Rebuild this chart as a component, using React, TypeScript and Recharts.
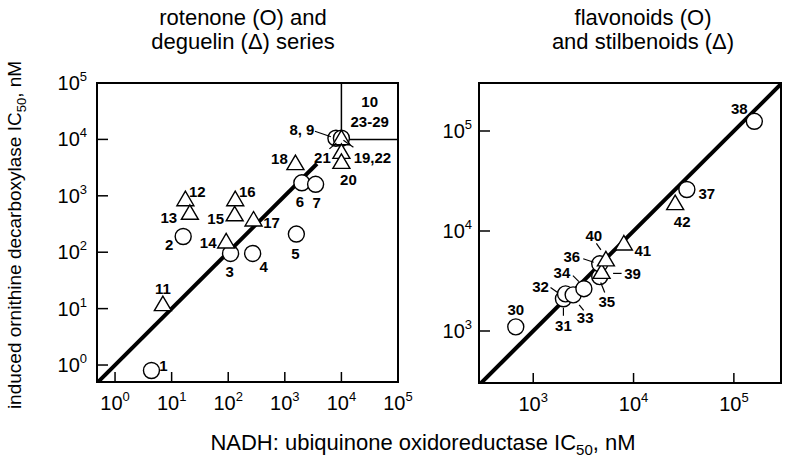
import React from 'react';
import { ScatterChart, Scatter, XAxis, YAxis, ReferenceLine, ReferenceDot } from 'recharts';

const FONT = "'Liberation Sans', Arial, Helvetica, sans-serif";

// rotenone (O) series — NADH oxidoreductase IC50 vs induced ODC IC50 (nM)
const rotenoneIds = ['1', '2', '3', '4', '5', '6', '7', '8, 9', ''];
const rotenoneNadh = [4.4, 16, 110, 270, 1600, 2000, 3500, 8000, 10000];
const rotenoneOdc = [0.8, 190, 95, 95, 210, 1700, 1600, 10500, 10500];

// deguelin (Δ) series
const deguelinIds = ['11', '12', '13', '14', '15', '16', '17', '18', '19,22', '21', '20'];
const deguelinNadh = [7, 17.5, 21, 92, 130, 133, 280, 1540, 10000, 10000, 10000];
const deguelinOdc = [12, 870, 500, 155, 470, 870, 380, 3800, 10500, 6000, 4000];

// flavonoids (O)
const flavonoidIds = ['30', '31', '32', '33', '34', '35', '36', '37', '38'];
const flavonoidNadh = [670, 2000, 2100, 2500, 3200, 4600, 4600, 34000, 160000];
const flavonoidOdc = [1100, 2100, 2350, 2300, 2650, 3500, 4700, 26000, 125000];

// stilbenoids (Δ)
const stilbenoidIds = ['39', '40', '41', '42'];
const stilbenoidNadh = [4800, 5300, 8000, 26000];
const stilbenoidOdc = [3900, 5200, 7500, 19000];

const leftTicks = [1, 10, 100, 1000, 10000, 100000];
const rightTicks = [1000, 10000, 100000];
const leftFit = [0.5, 3700];
const rightFit = [290, 300000];
const boxRange = [10000, 100000];
const boxLines = ['10', '23-29'];

const leftXDomain = [0.48, 100000];
const leftYDomain = [0.5, 100000];
const rightXDomain = [288, 295000];
const rightYDomain = [302, 302000];

// where each point label sits relative to its marker (px), with optional leader line
const labelPos: Record<string, { dx: number; dy: number; lead?: number[] }> = {
  '1': { dx: 12, dy: -5 },
  '2': { dx: -14, dy: 8 },
  '3': { dx: -1, dy: 18 },
  '4': { dx: 11, dy: 13 },
  '5': { dx: -1, dy: 19 },
  '6': { dx: -2, dy: 19 },
  '7': { dx: 1, dy: 18 },
  '8, 9': { dx: -34, dy: -9, lead: [-21, -7, -5, -1.5] },
  '11': { dx: 0, dy: -16 },
  '12': { dx: 12, dy: -8 },
  '13': { dx: -21, dy: 5 },
  '14': { dx: -18, dy: 1 },
  '15': { dx: -19, dy: 4 },
  '16': { dx: 12, dy: -8 },
  '17': { dx: 18, dy: 3 },
  '18': { dx: -16, dy: -5 },
  '19,22': { dx: 31, dy: 19, lead: [12, 9, 2, 2] },
  '21': { dx: -19, dy: 6, lead: [-12, -3, -5, -9] },
  '20': { dx: 7, dy: 18 },
  '30': { dx: 0, dy: -17 },
  '31': { dx: 0, dy: 27, lead: [0, 9, 0, 17] },
  '32': { dx: -25, dy: -7, lead: [-15, -6.5, -8, -1.5] },
  '33': { dx: 12, dy: 23, lead: [6, 10, 10.5, 15.5] },
  '34': { dx: -22, dy: -16, lead: [-11, -13, -5, -7] },
  '35': { dx: 7, dy: 25, lead: [1, 6, 5, 16] },
  '36': { dx: -28, dy: -7, lead: [-16.5, -5, -6, -1.5] },
  '37': { dx: 20, dy: 4 },
  '38': { dx: -15, dy: -13 },
  '39': { dx: 31, dy: 2, lead: [11.5, 1.5, 20, 1.5] },
  '40': { dx: -12, dy: -24, lead: [-9.5, -16, -5, -9.5] },
  '41': { dx: 19, dy: 7 },
  '42': { dx: 7, dy: 18 },
};

const toPoints = (ids: string[], xs: number[], ys: number[]) =>
  ids.map((id, i) => ({ id, x: xs[i], y: ys[i] }));
const toLine = (ends: number[]) => ends.map((v) => ({ x: v, y: v }));

const Marker = (props: any) => {
  const { cx, cy, payload, kind } = props;
  if (cx == null || cy == null) return <g />;
  const pos = labelPos[payload.id];
  return (
    <g>
      {kind === 'circle' ? (
        <circle cx={cx} cy={cy} r={8} fill="#fff" stroke="#000" strokeWidth={1.4} />
      ) : (
        <polygon
          points={`${cx},${cy - 8} ${cx - 8.5},${cy + 6.5} ${cx + 8.5},${cy + 6.5}`}
          fill="#fff"
          stroke="#000"
          strokeWidth={1.4}
        />
      )}
      {pos && pos.lead && (
        <line
          x1={cx + pos.lead[0]}
          y1={cy + pos.lead[1]}
          x2={cx + pos.lead[2]}
          y2={cy + pos.lead[3]}
          stroke="#000"
          strokeWidth={1.2}
        />
      )}
      {pos && payload.id && (
        <text
          x={cx + pos.dx}
          y={cy + pos.dy}
          textAnchor="middle"
          dominantBaseline="central"
          fontFamily={FONT}
          fontWeight="bold"
          fontSize={15}
          fill="#000"
        >
          {payload.id}
        </text>
      )}
    </g>
  );
};

const circleShape = (p: any) => <Marker {...p} kind="circle" />;
const triangleShape = (p: any) => <Marker {...p} kind="triangle" />;
const noShape = () => <g />;

const PowerTickX = (props: any) => {
  const { x, y, payload } = props;
  const exp = Math.round(Math.log10(payload.value));
  return (
    <text x={x} y={y + 28} textAnchor="middle" fontFamily={FONT} fontSize={20} fill="#000">
      10
      <tspan fontSize={13} dy={-9}>
        {exp}
      </tspan>
    </text>
  );
};

const PowerTickY = (props: any) => {
  const { x, y, payload } = props;
  const exp = Math.round(Math.log10(payload.value));
  return (
    <text x={x} y={y + 7} textAnchor="end" fontFamily={FONT} fontSize={20} fill="#000">
      10
      <tspan fontSize={13} dy={-9}>
        {exp}
      </tspan>
    </text>
  );
};

const BoxLabel = (props: any) => {
  const { viewBox, lines } = props;
  if (!viewBox) return null;
  const cx = viewBox.x + (viewBox.width || 0) / 2;
  const cy = viewBox.y + (viewBox.height || 0) / 2;
  return (
    <g>
      {lines.map((t: string, i: number) => (
        <text
          key={t}
          x={cx}
          y={cy + (i - 0.5) * 20}
          textAnchor="middle"
          dominantBaseline="central"
          fontFamily={FONT}
          fontWeight="bold"
          fontSize={15}
          fill="#000"
        >
          {t}
        </text>
      ))}
    </g>
  );
};

const tickStroke = { stroke: '#000', strokeWidth: 1.5 };

// chart placement; the panel frames below follow from these
const LEFT = { left: 37, width: 383, height: 422, yAxisW: 60, xAxisH: 40, top: 83, right: 22 };
const RIGHT = { left: 429, width: 362, height: 423, yAxisW: 50, xAxisH: 40, top: 83, right: 10 };

const frameOf = (c: typeof LEFT) => ({
  x: c.left + c.yAxisW,
  y: c.top,
  width: c.width - c.yAxisW - c.right,
  height: c.height - c.top - c.xAxisH,
});

const App = () => {
  const rotenone = toPoints(rotenoneIds, rotenoneNadh, rotenoneOdc);
  const deguelin = toPoints(deguelinIds, deguelinNadh, deguelinOdc);
  const flavonoids = toPoints(flavonoidIds, flavonoidNadh, flavonoidOdc);
  const stilbenoids = toPoints(stilbenoidIds, stilbenoidNadh, stilbenoidOdc);
  const leftFrame = frameOf(LEFT);
  const rightFrame = frameOf(RIGHT);
  const boxMid = Math.sqrt(boxRange[0] * boxRange[1]);

  return (
    <div style={{ position: 'fixed', left: 0, top: 0, width: 796, height: 470, background: '#fff' }}>
      <div style={{ position: 'absolute', left: LEFT.left, top: 0 }}>
        <ScatterChart
          width={LEFT.width}
          height={LEFT.height}
          margin={{ top: LEFT.top, right: LEFT.right, bottom: 0, left: 0 }}
        >
          <XAxis
            type="number"
            dataKey="x"
            scale="log"
            domain={leftXDomain}
            allowDataOverflow
            ticks={leftTicks}
            interval={0}
            height={LEFT.xAxisH}
            axisLine={false}
            tickLine={tickStroke}
            tickSize={-10}
            tickMargin={10}
            tick={<PowerTickX />}
          />
          <YAxis
            type="number"
            dataKey="y"
            scale="log"
            domain={leftYDomain}
            allowDataOverflow
            ticks={leftTicks}
            interval={0}
            width={LEFT.yAxisW}
            axisLine={false}
            tickLine={tickStroke}
            tickSize={-11}
            tickMargin={21}
            tick={<PowerTickY />}
          />
          <ReferenceLine
            segment={[
              { x: boxRange[0], y: boxRange[0] },
              { x: boxRange[0], y: boxRange[1] },
            ]}
            stroke="#000"
            strokeWidth={1.5}
            ifOverflow="visible"
          />
          <ReferenceLine
            segment={[
              { x: boxRange[0], y: boxRange[0] },
              { x: boxRange[1], y: boxRange[0] },
            ]}
            stroke="#000"
            strokeWidth={1.5}
            ifOverflow="visible"
          />
          <ReferenceDot
            x={boxMid}
            y={boxMid}
            r={1}
            fill="none"
            stroke="none"
            ifOverflow="visible"
            label={<BoxLabel lines={boxLines} />}
          />
          <Scatter
            data={toLine(leftFit)}
            line={{ stroke: '#000', strokeWidth: 4 }}
            shape={noShape}
            legendType="none"
            isAnimationActive={false}
          />
          <Scatter data={rotenone} shape={circleShape} isAnimationActive={false} />
          <Scatter data={deguelin} shape={triangleShape} isAnimationActive={false} />
        </ScatterChart>
      </div>

      <div style={{ position: 'absolute', left: RIGHT.left, top: 0 }}>
        <ScatterChart
          width={RIGHT.width}
          height={RIGHT.height}
          margin={{ top: RIGHT.top, right: RIGHT.right, bottom: 0, left: 0 }}
        >
          <XAxis
            type="number"
            dataKey="x"
            scale="log"
            domain={rightXDomain}
            allowDataOverflow
            ticks={rightTicks}
            interval={0}
            height={RIGHT.xAxisH}
            axisLine={false}
            tickLine={tickStroke}
            tickSize={-10}
            tickMargin={10}
            tick={<PowerTickX />}
          />
          <YAxis
            type="number"
            dataKey="y"
            scale="log"
            domain={rightYDomain}
            allowDataOverflow
            ticks={rightTicks}
            interval={0}
            width={RIGHT.yAxisW}
            axisLine={false}
            tickLine={tickStroke}
            tickSize={-11}
            tickMargin={18}
            tick={<PowerTickY />}
          />
          <Scatter
            data={toLine(rightFit)}
            line={{ stroke: '#000', strokeWidth: 4 }}
            shape={noShape}
            legendType="none"
            isAnimationActive={false}
          />
          <Scatter data={flavonoids} shape={circleShape} isAnimationActive={false} />
          <Scatter data={stilbenoids} shape={triangleShape} isAnimationActive={false} />
        </ScatterChart>
      </div>

      <svg
        width={796}
        height={470}
        style={{ position: 'absolute', left: 0, top: 0, pointerEvents: 'none' }}
        fontFamily={FONT}
        fill="#000"
      >
        <rect {...leftFrame} fill="none" stroke="#000" strokeWidth={2} />
        <rect {...rightFrame} fill="none" stroke="#000" strokeWidth={2} />
        <text x={243} y={25} textAnchor="middle" fontSize={22}>rotenone (O) and</text>
        <text x={243} y={49} textAnchor="middle" fontSize={22}>deguelin (Δ) series</text>
        <text x={643} y={25} textAnchor="middle" fontSize={22}>flavonoids (O)</text>
        <text x={643} y={49} textAnchor="middle" fontSize={22}>and stilbenoids (Δ)</text>
        <text x={423} y={450} textAnchor="middle" fontSize={22}>
          NADH: ubiquinone oxidoreductase IC
          <tspan fontSize={15} dy={5}>50</tspan>
          <tspan dy={-5}>, nM</tspan>
        </text>
        <text transform="translate(21,235) rotate(-90)" textAnchor="middle" fontSize={19}>
          induced ornithine decarboxylase IC
          <tspan fontSize={13} dy={5}>50</tspan>
          <tspan dy={-5}>, nM</tspan>
        </text>
      </svg>
    </div>
  );
};

export default App;
